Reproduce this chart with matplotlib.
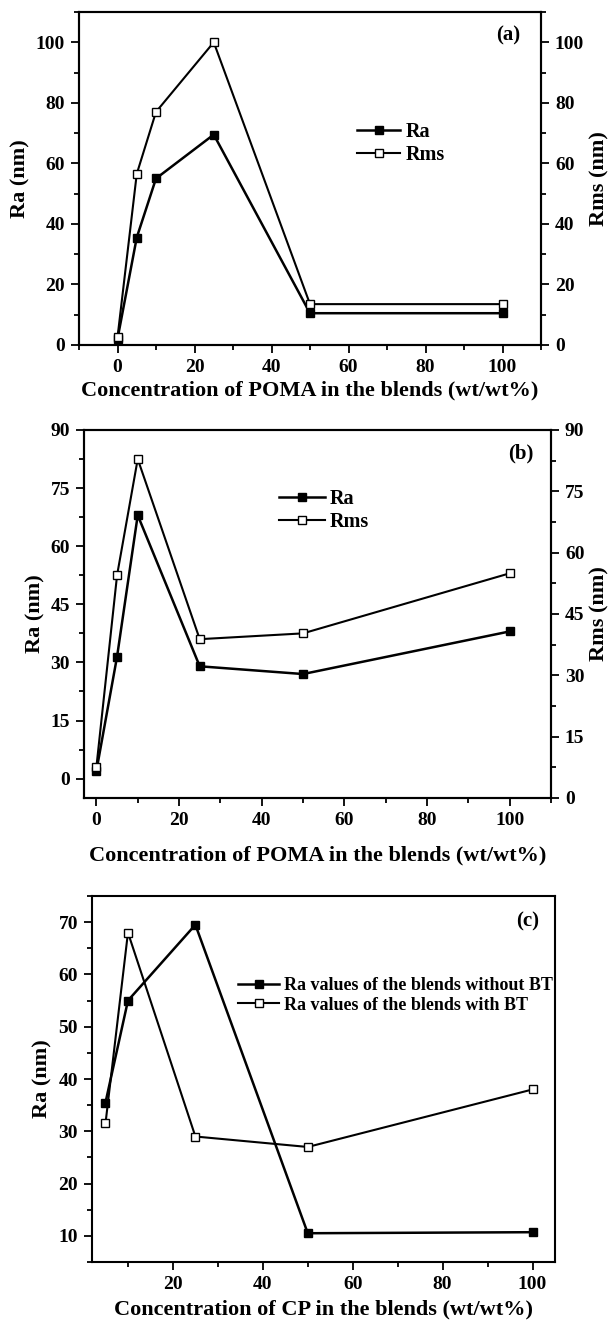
import matplotlib
matplotlib.use("Agg")
import matplotlib.pyplot as plt
from matplotlib.ticker import MultipleLocator

plt.rcParams['font.family'] = ['Liberation Serif', 'DejaVu Serif']
plt.rcParams['font.weight'] = 'bold'
plt.rcParams['axes.linewidth'] = 1.5

# panel (a): POMA content, blends without BT
conc_a = [0, 5, 10, 25, 50, 100]
ra_a = [2.0, 35.5, 55.0, 69.5, 10.5, 10.5]
rms_a = [2.5, 56.5, 77.0, 100.0, 13.5, 13.5]

# panel (b): POMA content, blends with BT
conc_b = [0, 5, 10, 25, 50, 100]
ra_b = [2.0, 31.5, 68.0, 29.0, 27.0, 38.0]
rms_b = [3.0, 52.5, 82.5, 36.0, 37.5, 53.0]

# panel (c): CP content
conc_c = [5, 10, 25, 50, 100]
ra_without_bt = [35.5, 55.0, 69.5, 10.5, 10.7]
ra_with_bt = [31.5, 68.0, 29.0, 27.0, 38.0]

W, H = 610, 1325
fig = plt.figure(figsize=(W / 100, H / 100), dpi=100)


def box(l, t, r, b):
    return [l / W, 1 - b / H, (r - l) / W, (b - t) / H]


def style(ax):
    ax.tick_params(which='both', direction='out', width=1.3, labelsize=14)
    ax.tick_params(which='major', length=6, pad=4)
    ax.tick_params(which='minor', length=3.5)
    ax.tick_params(top=False, which='both')
    for lab in ax.get_xticklabels() + ax.get_yticklabels():
        lab.set_fontweight('bold')


def legend(ax, x, y, size, hl):
    ax.legend(loc='upper left', bbox_to_anchor=(x, y), frameon=False,
              borderpad=0, borderaxespad=0, handlelength=hl,
              handletextpad=0.25, labelspacing=0.15,
              prop={'weight': 'bold', 'size': size})


kw_fill = dict(color='black', marker='s', markersize=6, lw=1.8,
               markerfacecolor='black', markeredgecolor='black')
kw_open = dict(color='black', marker='s', markersize=6, lw=1.5,
               markerfacecolor='white', markeredgecolor='black')
lab_font = dict(fontsize=16, fontweight='bold')

# ---- (a)
ax = fig.add_axes(box(79, 12, 541, 345))
ax.plot(conc_a, ra_a, label='Ra', **kw_fill)
ax.plot(conc_a, rms_a, label='Rms', **kw_open)
ax.set_xlim(-10, 110)
ax.set_ylim(0, 110)
ax.xaxis.set_major_locator(MultipleLocator(20))
ax.xaxis.set_minor_locator(MultipleLocator(10))
ax.yaxis.set_major_locator(MultipleLocator(20))
ax.yaxis.set_minor_locator(MultipleLocator(10))
ax.set_xlabel('Concentration of POMA in the blends (wt/wt%)', labelpad=3, **lab_font)
ax.set_ylabel('Ra (nm)', labelpad=4, **lab_font)
style(ax)
ax.text(0.93, 0.93, '(a)', transform=ax.transAxes, ha='center', va='center',
        fontsize=15, fontweight='bold')
legend(ax, 0.602, 0.67, 14.5, 2.15)
axr = ax.twinx()
axr.set_ylim(0, 110)
axr.yaxis.set_major_locator(MultipleLocator(20))
axr.yaxis.set_minor_locator(MultipleLocator(10))
axr.set_ylabel('Rms (nm)', labelpad=4, **lab_font)
style(axr)

# ---- (b)
ax = fig.add_axes(box(84, 430, 551, 798))
ax.plot(conc_b, ra_b, label='Ra', **kw_fill)
ax.plot(conc_b, rms_b, label='Rms', **kw_open)
ax.set_xlim(-3, 110)
ax.set_ylim(-5, 90)
ax.xaxis.set_major_locator(MultipleLocator(20))
ax.xaxis.set_minor_locator(MultipleLocator(10))
ax.yaxis.set_major_locator(MultipleLocator(15))
ax.yaxis.set_minor_locator(MultipleLocator(7.5))
ax.set_xlabel('Concentration of POMA in the blends (wt/wt%)', labelpad=12, **lab_font)
ax.set_ylabel('Ra (nm)', labelpad=4, **lab_font)
style(ax)
ax.text(0.935, 0.935, '(b)', transform=ax.transAxes, ha='center', va='center',
        fontsize=15, fontweight='bold')
legend(ax, 0.418, 0.84, 14.5, 2.25)
axr = ax.twinx()
axr.set_ylim(0, 90)
axr.yaxis.set_major_locator(MultipleLocator(15))
axr.yaxis.set_minor_locator(MultipleLocator(7.5))
axr.set_ylabel('Rms (nm)', labelpad=4, **lab_font)
style(axr)

# ---- (c)
ax = fig.add_axes(box(92, 896, 555, 1262))
ax.plot(conc_c, ra_without_bt, label='Ra values of the blends without BT', **kw_fill)
ax.plot(conc_c, ra_with_bt, label='Ra values of the blends with BT', **kw_open)
ax.set_xlim(2, 105)
ax.set_ylim(5, 75)
ax.xaxis.set_major_locator(MultipleLocator(20))
ax.xaxis.set_minor_locator(MultipleLocator(10))
ax.yaxis.set_major_locator(MultipleLocator(10))
ax.yaxis.set_minor_locator(MultipleLocator(5))
ax.set_xlabel('Concentration of CP in the blends (wt/wt%)', labelpad=5, **lab_font)
ax.set_ylabel('Ra (nm)', labelpad=4, **lab_font)
style(ax)
ax.tick_params(right=False, which='both')
ax.text(0.94, 0.93, '(c)', transform=ax.transAxes, ha='center', va='center',
        fontsize=15, fontweight='bold')
legend(ax, 0.315, 0.779, 13, 2.3)

fig.savefig('out.png', dpi=100)
